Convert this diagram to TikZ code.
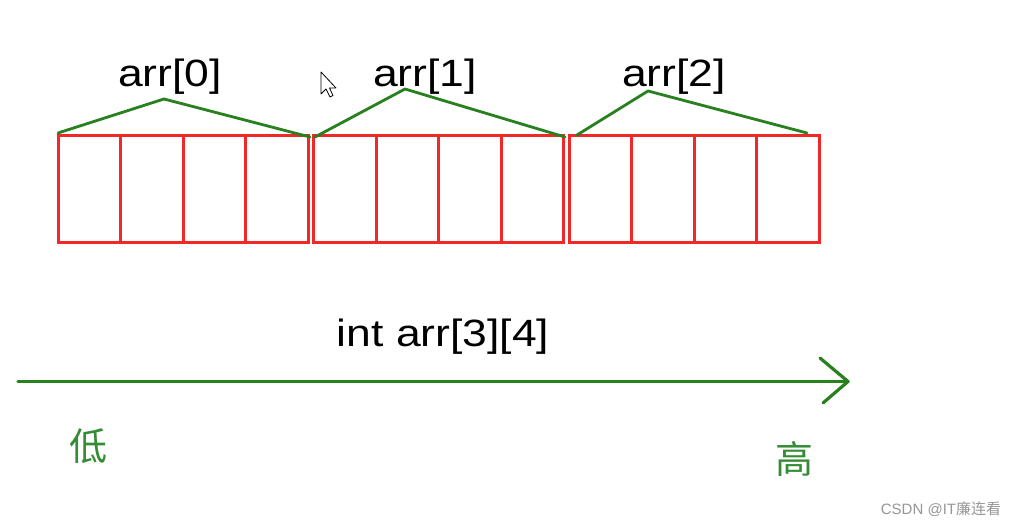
\documentclass[tikz,border=0pt]{standalone}
\usepackage{fontspec}
\usepackage{graphicx}
\setmainfont{Liberation Sans}
\newfontfamily\cjk{Noto Sans CJK SC}
\usetikzlibrary{arrows.meta}
\definecolor{boxred}{RGB}{240,40,40}
\definecolor{lgreen}{RGB}{40,128,30}
\definecolor{tgreen}{RGB}{52,140,52}
\definecolor{wmgray}{RGB}{150,150,150}
\tikzset{
  cell/.style={draw=boxred, line width=3pt, minimum width=62.5pt, minimum height=106.5pt, inner sep=0pt, outer sep=0pt, anchor=north west},
  zig/.style={draw=lgreen, line width=2.8pt, line join=round, line cap=round},
  lbl/.style={anchor=base, inner sep=0pt, font=\fontsize{38}{40}\selectfont, text=black},
  cjklbl/.style={inner sep=0pt, font=\cjk\fontsize{38}{40}\selectfont, text=tgreen},
  axis/.style={draw=lgreen, line width=3.2pt, line cap=round, line join=round},
}
\begin{document}
\begin{tikzpicture}[x=1pt,y=-1pt]
\useasboundingbox[fill=white] (0,0) rectangle (1020,526);
% cells
\foreach \g/\gl in {0/58,1/313.5,2/569}{
  \foreach \i in {0,1,2,3}{
    \node[cell] (c\g\i) at ({\gl+\i*62.5},136) {};
  }
}
% labels
\node[lbl] (a0) at (170,87) {\scalebox{1.17}[1]{arr[0]}};
\node[lbl] (a1) at (425,87) {\scalebox{1.17}[1]{arr[1]}};
\node[lbl] (a2) at (674,87) {\scalebox{1.17}[1]{arr[2]}};
% zigzag connectors
\coordinate (s0) at (58,133);  \coordinate (p0) at (164,99);  \coordinate (e0) at (310,137);
\coordinate (s1) at (315,137); \coordinate (p1) at (405,89);  \coordinate (e1) at (565,137);
\coordinate (s2) at (577,135); \coordinate (p2) at (648,91);  \coordinate (e2) at (807,133);
\draw[zig] (s0) -- (p0) -- (e0);
\draw[zig] (s1) -- (p1) -- (e1);
\draw[zig] (s2) -- (p2) -- (e2);
% declaration
\node[lbl] (decl) at (443,347) {\scalebox{1.17}[1]{int arr[3][4]}};
% address axis
\coordinate (lo) at (18,381.5);
\coordinate (hi) at (848,381.5);
\coordinate (b1) at (820,358);
\coordinate (b2) at (823,403);
\draw[axis] (lo) -- (hi);
\draw[axis] (b1) -- (hi) -- (b2);
\node[cjklbl] (low) at (88,446) {低};
\node[cjklbl] (high) at (794,459) {高};
% cursor
\draw[black, line width=0.8pt, fill=white, line join=round]
  (321,72) -- (321,94) -- (326,89) -- (330,97) -- (333,95.5) -- (329.5,88) -- (336,88) -- cycle;
% watermark
\node[inner sep=0pt, font=\fontsize{15}{16}\selectfont, text=wmgray] (wm) at (941,509) {CSDN @IT{\cjk 廉连看}};
\end{tikzpicture}
\end{document}
